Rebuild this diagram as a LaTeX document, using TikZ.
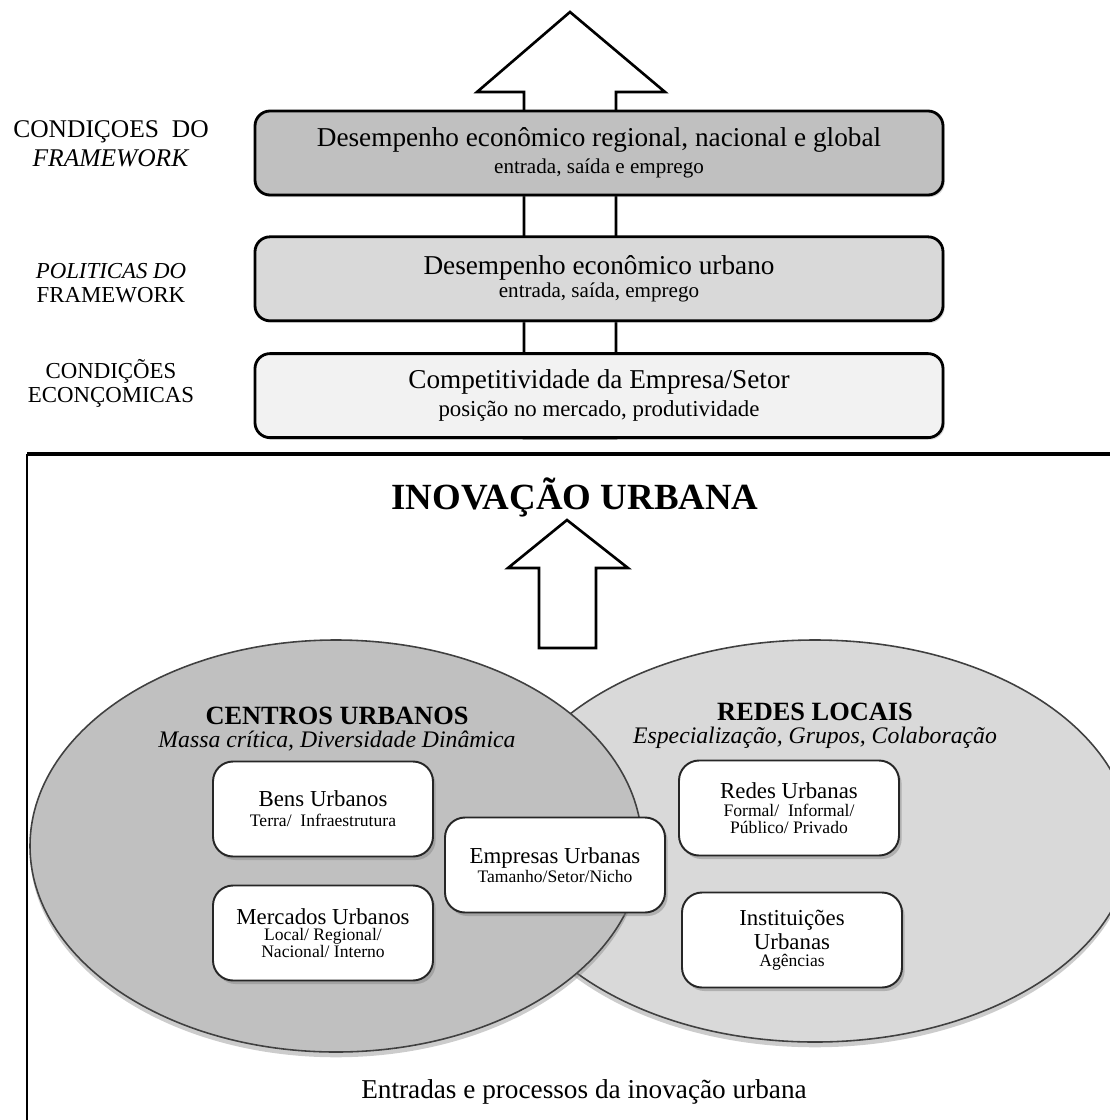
\documentclass[tikz,border=0pt]{standalone}
\usepackage{fontspec}
\setmainfont{Liberation Serif}
\usetikzlibrary{positioning,shadows,shapes.geometric}
\definecolor{gdark}{HTML}{C0C0C0}
\definecolor{gmid}{HTML}{D9D9D9}
\definecolor{glight}{HTML}{F2F2F2}

\begin{document}
\begin{tikzpicture}[x=0.2mm,y=-0.2mm,
	lvl/.style={draw,line width=1.6pt,rounded corners=3mm,minimum width=137.6mm,minimum height=16.8mm,align=center,inner sep=0pt,
		drop shadow={shadow xshift=1pt,shadow yshift=-1.2pt,opacity=.3}},
	lbl/.style={align=center,font=\fontsize{13}{13.6}\selectfont},
	card/.style={draw=black!85,line width=1.1pt,fill=white,rounded corners=4mm,minimum width=44mm,minimum height=19mm,align=center,inner sep=0pt,
		font=\fontsize{10}{9.5}\selectfont,drop shadow={shadow xshift=1.5pt,shadow yshift=-2pt,opacity=.45}},
	blob/.style={ellipse,draw=black!75,line width=0.9pt,inner sep=0pt,
		drop shadow={shadow xshift=0pt,shadow yshift=-3pt,opacity=.4}},
	hollow/.style={draw,line width=1.5pt,fill=white,line join=miter}]
	\useasboundingbox (0,0) rectangle (1110,1120);
	\clip (0,0) rectangle (1110,1120);

	% moldura de baixo
	\draw[line width=2.3pt] (1120,454) -- (27,454);
	\draw[line width=1.5pt] (27,454) -- (27,1130);

	% seta de cima
	\draw[hollow] (570,12) -- (665,92) -- (616,92) -- (616,438) -- (524,438) -- (524,92) -- (477,92) -- cycle;

	\node[lvl,fill=gdark] (desemp) at (599,153)
		{\fontsize{15.5}{16.4}\selectfont Desempenho econômico regional, nacional e global\\[3.5pt]
		 \fontsize{12}{12}\selectfont entrada, saída e emprego};
	\node[lvl,fill=gmid,below=7.8mm of desemp] (urbano)
		{\fontsize{15.5}{14}\selectfont Desempenho econômico urbano\\[1pt]
		 \fontsize{12}{12}\selectfont entrada, saída, emprego};
	\node[lvl,fill=glight,below=6mm of urbano] (compet)
		{\fontsize{15.5}{16.4}\selectfont Competitividade da Empresa/Setor\\[2.5pt]
		 \fontsize{13}{13}\selectfont posição no mercado, produtividade};

	\node[lbl,font=\fontsize{14.5}{16.4}\selectfont] (condfw) at (111,144) {CONDIÇOES\ \ DO\\\textit{FRAMEWORK}};
	\node[lbl] (polfw) at (111,283) {\textit{POLITICAS DO}\\FRAMEWORK};
	\node[lbl] (condec) at (111,383) {CONDIÇÕES\\ECONÇOMICAS};

	\node[font=\fontsize{21}{21}\selectfont\bfseries] (inov) at (575,497) {INOVAÇÃO URBANA};

	% circulos
	\node[blob,fill=gmid,minimum width=126.4mm,minimum height=80.4mm] (redes) at (815,841) {};
	\node[blob,fill=gdark,minimum width=122.4mm,minimum height=82.4mm] (centros) at (336,846) {};

	% seta de baixo
	\draw[hollow] (567,520) -- (628,568) -- (596,568) -- (596,648) -- (539,648) -- (539,568) -- (508,568) -- cycle;

	\node[align=center,font=\fontsize{13.5}{13}\selectfont] (centrostxt) at (337,729)
		{\textbf{\fontsize{15}{13}\selectfont CENTROS URBANOS}\\\textit{Massa crítica, Diversidade Dinâmica}};
	\node[align=center,font=\fontsize{13.5}{13}\selectfont] (redestxt) at (815,726)
		{\textbf{\fontsize{15}{13}\selectfont REDES LOCAIS}\\\textit{Especialização, Grupos, Colaboração}};

	\node[card] (bens) at (323,809) {\fontsize{13}{12.5}\selectfont Bens Urbanos\\[2pt]Terra/\ \ Infraestrutura};
	\node[card] (merc) at (323,933) {\fontsize{13}{10.5}\selectfont Mercados Urbanos\\Local/\ Regional/\\Nacional/\ Interno};
	\node[card] (empr) at (555,865) {\fontsize{13}{10.5}\selectfont Empresas Urbanas\\Tamanho/Setor/Nicho};
	\node[card] (redurb) at (789,808) {\fontsize{13}{11.5}\selectfont Redes Urbanas\\[1pt]Formal/\ \ Informal/\\Público/ Privado};
	\node[card] (inst) at (792,940) {\fontsize{13}{13}\selectfont Instituições\\[1pt]\fontsize{13}{13}\selectfont Urbanas\\Agências};

	\node[font=\fontsize{15.5}{15}\selectfont] (legenda) at (584,1092) {Entradas e processos da inovação urbana};
\end{tikzpicture}
\end{document}
